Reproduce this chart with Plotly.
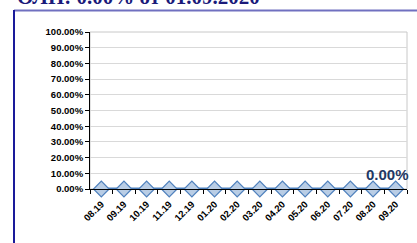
import plotly.graph_objects as go

categories = ["08.19", "09.19", "10.19", "11.19", "12.19", "01.20", "02.20",
              "03.20", "04.20", "05.20", "06.20", "07.20", "08.20", "09.20"]
values = [0.0] * 14
title_text = "ОЛП: 0.00% от 01.09.2020"
y_ticks = [i / 10 for i in range(11)]

W, H = 417, 243
L, R, T, B = 90, 10, 32, 54
pw, ph = W - L - R, H - T - B

def px(x):
    return (x - L) / pw

def py(y):
    return (H - B - y) / ph

fig = go.Figure()
fig.add_trace(go.Scatter(
    x=categories, y=values, mode="lines+markers",
    line=dict(color="#4F81BD", width=3),
    marker=dict(symbol="diamond", size=12, color="#B9CDE5",
                line=dict(color="#4F81BD", width=1.2)),
    cliponaxis=False, showlegend=False,
))
last = len(categories) - 1
fig.add_annotation(x=last, y=values[-1], text="0.00%",
                   showarrow=False, xanchor="center", yanchor="bottom",
                   xshift=-8, yshift=4,
                   font=dict(family="Liberation Sans", size=15, color="#1F3864", weight="bold"))

fig.add_annotation(x=px(15), y=py(-3), xref="paper", yref="paper", text=title_text,
                   showarrow=False, xanchor="left", yanchor="middle",
                   font=dict(family="Liberation Serif", size=21, color="#1A1A7A", weight="bold"))

# outer frame
fig.add_shape(type="line", xref="paper", yref="paper", x0=px(14), x1=px(430),
              y0=py(10.5), y1=py(10.5), line=dict(color="#7070C0", width=2))
fig.add_shape(type="line", xref="paper", yref="paper", x0=px(14), x1=px(14),
              y0=py(10), y1=py(260), line=dict(color="#1A1A9A", width=2))
# plot border
fig.add_shape(type="rect", xref="paper", yref="paper", x0=0, x1=1, y0=0, y1=1,
              line=dict(color="#C8C8C8", width=1), layer="below")

tickfont = dict(family="Liberation Sans", size=9.5, color="#000000", weight="bold")
fig.update_xaxes(range=[-0.5, 13.5], tickangle=-45, tickfont=tickfont,
                 ticks="outside", ticklen=4, tickcolor="#000", tickson="boundaries",
                 ticklabelstandoff=5,
                 showline=True, linecolor="#000", linewidth=1, showgrid=False)
fig.update_yaxes(range=[0, 1], tickvals=y_ticks, tickformat=".2%", tickfont=tickfont,
                 ticks="outside", ticklen=4, tickcolor="#000",
                 showline=True, linecolor="#000", linewidth=1,
                 gridcolor="#D9D9D9", gridwidth=1, zeroline=False)
fig.update_layout(width=W, height=H, margin=dict(l=L, r=R, t=T, b=B),
                  paper_bgcolor="#FFFFFF", plot_bgcolor="#FFFFFF")
fig.write_html("out.html", config={"displayModeBar": False},
               post_script="document.body.style.margin='0';document.body.style.overflow='hidden';")
